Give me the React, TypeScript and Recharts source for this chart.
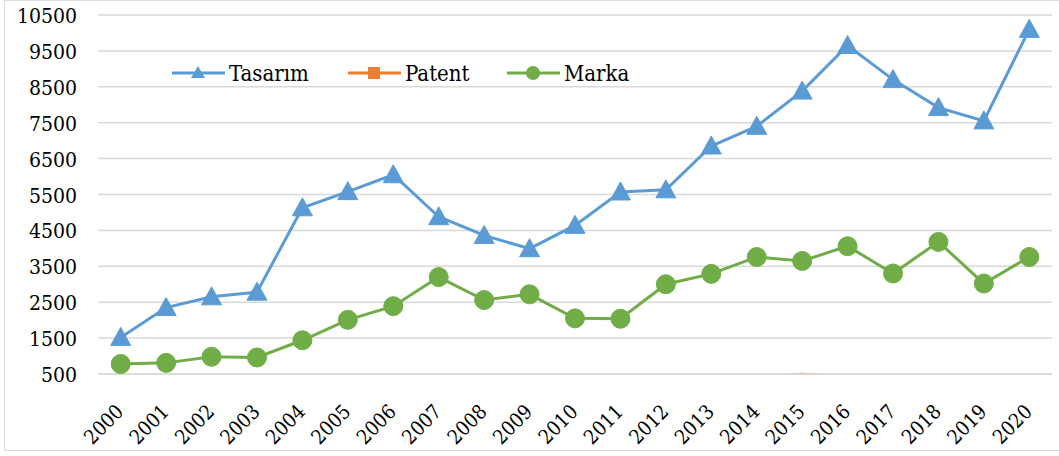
import { LineChart, Line, XAxis, YAxis, CartesianGrid, Legend } from 'recharts';

const YEARS = [
  '2000', '2001', '2002', '2003', '2004', '2005', '2006', '2007', '2008', '2009', '2010',
  '2011', '2012', '2013', '2014', '2015', '2016', '2017', '2018', '2019', '2020',
];

const TASARIM = [
  1520, 2350, 2650, 2780, 5130, 5580, 6050, 4880, 4360, 3990, 4640,
  5570, 5630, 6850, 7400, 8380, 9650, 8700, 7920, 7550, 10100,
];

// mostly under the 500 floor of the axis, so it is clipped away
const PATENT = [
  60, 55, 70, 90, 110, 130, 160, 190, 200, 210, 250,
  280, 300, 330, 380, 495, 420, 400, 350, 430, 440,
];

const MARKA = [
  780, 810, 980, 960, 1440, 2010, 2390, 3200, 2560, 2720, 2050,
  2040, 3000, 3290, 3760, 3650, 4060, 3300, 4180, 3020, 3760,
];

const Y_TICKS = [500, 1500, 2500, 3500, 4500, 5500, 6500, 7500, 8500, 9500, 10500];

const BLUE = '#5B9BD5';
const ORANGE = '#ED7D31';
const GREEN = '#70AD47';
const FONT = "'DejaVu Serif Condensed', 'DejaVu Serif', serif";
const textStyle = (size: number) => ({ fontFamily: FONT, fontStretch: 'condensed', fontSize: size });

const data = YEARS.map((year, i) => ({
  year,
  tasarim: TASARIM[i],
  patent: PATENT[i],
  marka: MARKA[i],
}));

function TriangleDot(props: any) {
  const { cx, cy } = props;
  if (cx == null || cy == null) return null;
  return (
    <polygon
      points={`${cx},${cy - 10} ${cx - 10},${cy + 8} ${cx + 10},${cy + 8}`}
      fill={BLUE}
      stroke={BLUE}
    />
  );
}

// Excel clips markers at the plot area; values under the axis floor get no marker
function SquareDot(props: any) {
  const { cx, cy, value } = props;
  if (cx == null || cy == null || value < 500) return null;
  return <rect x={cx - 5} y={cy - 5} width={10} height={10} fill={ORANGE} />;
}

function XTick(props: any) {
  const { x, y, payload } = props;
  const ax = x + 4;
  const ay = y + 31;
  return (
    <text
      x={ax}
      y={ay}
      transform={`rotate(-45 ${ax} ${ay})`}
      textAnchor="end"
      style={textStyle(20)}
      fill="#000"
    >
      {payload.value}
    </text>
  );
}

function YTick(props: any) {
  const { x, y, payload } = props;
  return (
    <text x={77} y={y} dy={8} textAnchor="end" style={textStyle(21)} fill="#000">
      {payload.value}
    </text>
  );
}

function LegendBox() {
  const items = [
    { name: 'Tasarım', color: BLUE, x: 7, kind: 'tri' },
    { name: 'Patent', color: ORANGE, x: 183, kind: 'sq' },
    { name: 'Marka', color: GREEN, x: 342, kind: 'dot' },
  ];
  return (
    <svg width={480} height={30}>
      {items.map((it) => {
        const mid = it.x + 26;
        return (
          <g key={it.name}>
            <line x1={it.x} y1={15} x2={it.x + 53} y2={15} stroke={it.color} strokeWidth={3} />
            {it.kind === 'tri' && (
              <polygon points={`${mid},${8} ${mid - 7},${20} ${mid + 7},${20}`} fill={it.color} />
            )}
            {it.kind === 'sq' && <rect x={mid - 6} y={9} width={12} height={12} fill={it.color} />}
            {it.kind === 'dot' && <circle cx={mid} cy={15} r={7} fill={it.color} />}
            <text x={it.x + 57} y={23} style={textStyle(22)} fill="#000">
              {it.name}
            </text>
          </g>
        );
      })}
    </svg>
  );
}

export default function App() {
  return (
    <div style={{ position: 'absolute', left: 0, top: 0, width: 1059, height: 456, background: '#fff', overflow: 'hidden' }}>
      <div
        style={{
          position: 'absolute',
          left: 4,
          top: 0,
          width: 1070,
          height: 451,
          border: '1.5px solid #d9d9d9',
          boxSizing: 'border-box',
        }}
      />
      <LineChart
        width={1059}
        height={456}
        data={data}
        margin={{ top: 15, right: 7, bottom: 0, left: 0 }}
        style={{ position: 'absolute', left: 0, top: 0 }}
      >
        <CartesianGrid vertical={false} stroke="#d9d9d9" strokeWidth={1.5} />
        <XAxis
          dataKey="year"
          height={82}
          padding={{ left: 22.7, right: 22.7 }}
          axisLine={{ stroke: '#d9d9d9', strokeWidth: 1.5 }}
          tickLine={false}
          interval={0}
          tick={<XTick />}
        />
        <YAxis
          width={98}
          domain={[500, 10500]}
          ticks={Y_TICKS}
          allowDataOverflow
          axisLine={false}
          tickLine={false}
          tick={<YTick />}
        />
        <Legend
          layout="vertical"
          align="center"
          verticalAlign="middle"
          wrapperStyle={{ position: 'absolute', left: 165, top: 58, width: 480 }}
          content={<LegendBox />}
        />
        <Line
          dataKey="tasarim"
          stroke={BLUE}
          strokeWidth={3}
          dot={<TriangleDot />}
          isAnimationActive={false}
        />
        <Line
          dataKey="patent"
          stroke={ORANGE}
          strokeWidth={3}
          dot={<SquareDot />}
          isAnimationActive={false}
        />
        <Line
          dataKey="marka"
          stroke={GREEN}
          strokeWidth={3}
          dot={{ r: 9.5, fill: GREEN, stroke: GREEN, strokeWidth: 1 }}
          isAnimationActive={false}
        />
      </LineChart>
    </div>
  );
}
